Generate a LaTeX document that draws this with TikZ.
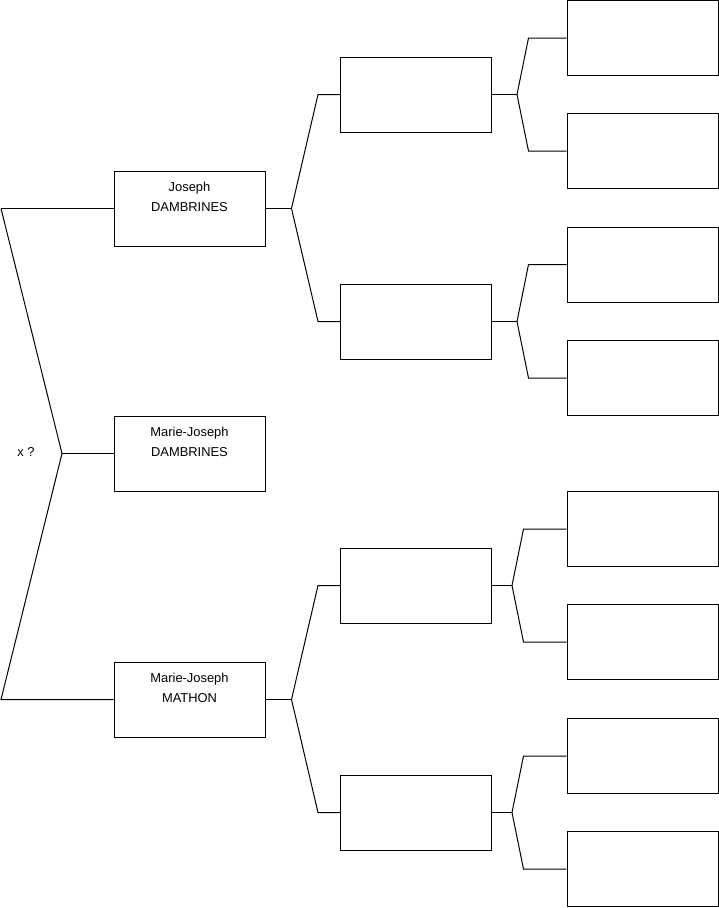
\documentclass[tikz,border=0pt]{standalone}
\usepackage{fontspec}
\setmainfont{Liberation Sans}
\begin{document}
\begin{tikzpicture}[x=1pt,y=-1pt,
  person/.style={draw, line width=1pt, minimum width=151pt, minimum height=75pt, inner sep=0pt},
  personlbl/.style={font=\fontsize{12.9}{20}\selectfont, align=center, inner sep=0pt},
  link/.style={line width=1pt}]
  \useasboundingbox (0,0) rectangle (719,908);

  % Generation 1
  \node[person] (jd) at (189.5,208.5) {};
  \node[person] (mjd) at (189.5,453.5) {};
  \node[person] (mjm) at (189.5,699.5) {};
  \node[personlbl] (jdlbl) at ([yshift=12pt]jd.center) {Joseph\\DAMBRINES};
  \node[personlbl] (mjdlbl) at ([yshift=12pt]mjd.center) {Marie-Joseph\\DAMBRINES};
  \node[personlbl] (mjmlbl) at ([yshift=12pt]mjm.center) {Marie-Joseph\\MATHON};

  % Generation 2
  \node[person] (pa) at (416,94.5) {};
  \node[person] (pb) at (416,321.5) {};
  \node[person] (pc) at (416,585.5) {};
  \node[person] (pd) at (416,812.5) {};

  % Generation 3
  \node[person] (qa) at (642.5,38) {};
  \node[person] (qb) at (642.5,151) {};
  \node[person] (qc) at (642.5,264.5) {};
  \node[person] (qd) at (642.5,378) {};
  \node[person] (qe) at (642.5,529) {};
  \node[person] (qf) at (642.5,642) {};
  \node[person] (qg) at (642.5,756) {};
  \node[person] (qh) at (642.5,869) {};

  % Union of the parents
  \node[personlbl] (xq) at (26,452) {x ?};
  \coordinate (ua) at (1,208.5);
  \coordinate (ub) at (1,699.5);
  \coordinate (uv) at (62,453.5);
  \draw[link] (ua) -- (jd.west);
  \draw[link] (ua) -- (uv) -- (ub) -- (mjm.west);
  \draw[link] (uv) -- (mjd.west);

  % Forks to generation 2
  \coordinate (fj) at ([xshift=26pt]jd.east);
  \coordinate (fm) at ([xshift=26pt]mjm.east);
  \draw[link] (jd.east) -- (fj);
  \draw[link] (pa.west) -- ([xshift=-22pt]pa.west) -- (fj) -- ([xshift=-22pt]pb.west) -- (pb.west);
  \draw[link] (mjm.east) -- (fm);
  \draw[link] (pc.west) -- ([xshift=-22pt]pc.west) -- (fm) -- ([xshift=-22pt]pd.west) -- (pd.west);

  % Forks to generation 3
  \coordinate (fa) at ([xshift=25pt]pa.east);
  \coordinate (fb) at ([xshift=25pt]pb.east);
  \coordinate (fc) at ([xshift=20pt]pc.east);
  \coordinate (fd) at ([xshift=20pt]pd.east);
  \draw[link] (pa.east) -- (fa);
  \draw[link] (qa.west) -- ([xshift=-38pt]qa.west) -- (fa) -- ([xshift=-38pt]qb.west) -- (qb.west);
  \draw[link] (pb.east) -- (fb);
  \draw[link] (qc.west) -- ([xshift=-38pt]qc.west) -- (fb) -- ([xshift=-38pt]qd.west) -- (qd.west);
  \draw[link] (pc.east) -- (fc);
  \draw[link] (qe.west) -- ([xshift=-43pt]qe.west) -- (fc) -- ([xshift=-43pt]qf.west) -- (qf.west);
  \draw[link] (pd.east) -- (fd);
  \draw[link] (qg.west) -- ([xshift=-43pt]qg.west) -- (fd) -- ([xshift=-43pt]qh.west) -- (qh.west);
\end{tikzpicture}
\end{document}
